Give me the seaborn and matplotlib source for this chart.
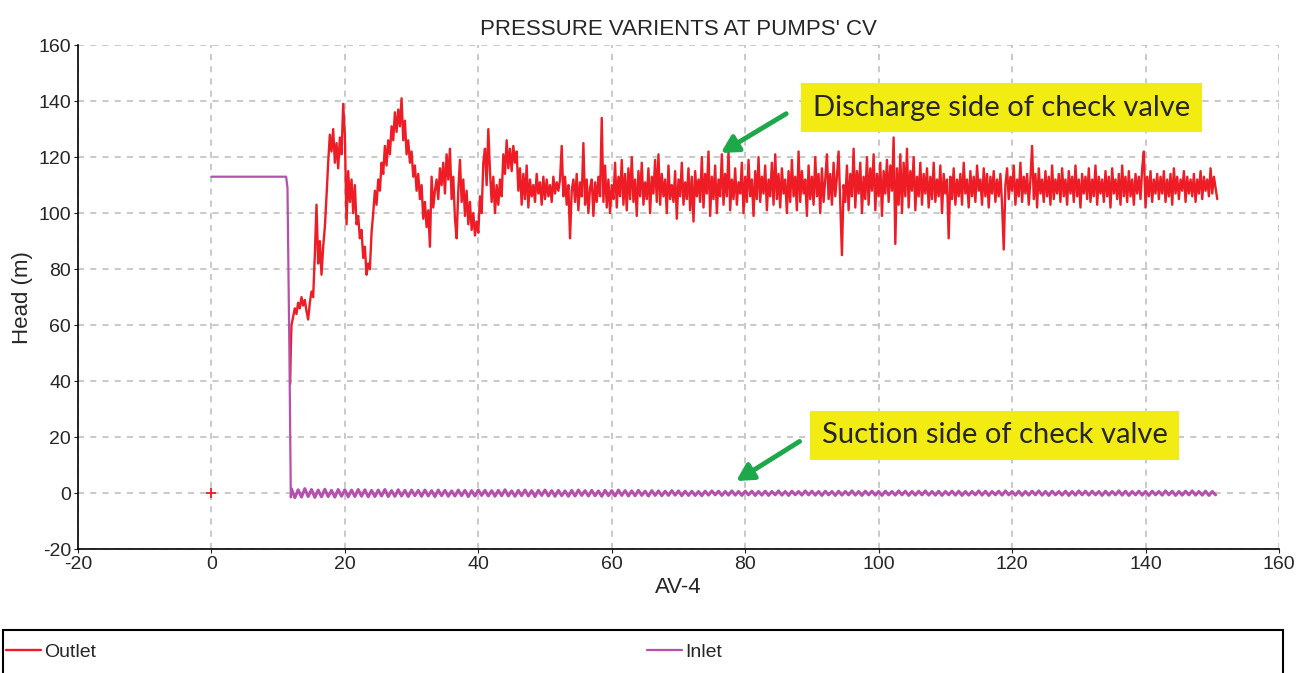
import numpy as np
import pandas as pd
import matplotlib
matplotlib.use("Agg")
import matplotlib.pyplot as plt
from matplotlib.patches import Rectangle
import seaborn as sns

# DATA

# outlet: one marker at t=0, then the transient and steady parts (0.25 s samples)
outlet_start_t = [0]
outlet_start_v = [0]

outlet_drop_t = [11.8, 11.9]
outlet_drop_v = [39, 52]

outlet_transient = [
    60, 63, 66, 64,  68, 66, 70, 67,  69, 65, 62, 68,  72, 70, 85, 103,
    82, 90, 78, 88,  95, 106, 118, 128,  122, 130, 118, 125,  116, 127, 121, 139,
    128, 96, 115, 104,  112, 100, 110, 96,  99, 91, 94, 84,  88, 78, 82, 80,
    93, 100, 108, 103,  112, 108, 118, 114,  124, 117, 126, 121,  131, 126, 136, 129,
    137, 131, 141, 126,  133, 121, 126, 118,  122, 113, 117, 108,  114, 105, 110, 98,
    104, 95, 101, 88,  113, 102, 108, 112,  105, 116, 110, 118,  107, 121, 112, 123,
    105, 113, 98, 91,  108, 119, 104, 112,  99, 108, 96, 104,  94, 100, 92, 97,
    93, 106, 100, 118,  123, 110, 130, 115,
]

outlet_steady = [
    104, 113, 100, 110, 103, 112, 106, 121, 114, 126, 116, 123, 115, 124, 118, 122, 108, 116, 103, 114,
    105, 117, 102, 112, 106, 110, 104, 114, 107, 111, 103, 113, 105, 112, 106, 110, 104, 113, 107, 111,
    108, 112, 124, 106, 113, 103, 110, 91, 108, 112, 104, 114, 101, 111, 106, 125, 103, 112, 100, 109,
    112, 99, 111, 104, 113, 106, 134, 104, 117, 102, 112, 100, 110, 105, 118, 102, 113, 106, 119, 103,
    114, 101, 116, 105, 120, 104, 112, 99, 115, 106, 118, 103, 111, 105, 116, 100, 113, 107, 119, 104,
    121, 103, 114, 106, 112, 100, 117, 105, 110, 104, 115, 98, 112, 106, 118, 103, 111, 105, 116, 101,
    113, 97, 115, 106, 112, 104, 120, 102, 114, 107, 122, 99, 113, 105, 117, 100, 112, 106, 121, 103,
    114, 106, 122, 101, 112, 105, 116, 103, 111, 107, 118, 100, 113, 104, 119, 106, 112, 99, 115, 105,
    120, 104, 113, 107, 117, 101, 112, 106, 118, 103, 121, 105, 114, 102, 116, 107, 112, 100, 115, 104,
    119, 106, 113, 101, 122, 104, 115, 107, 112, 99, 117, 105, 113, 103, 120, 106, 114, 100, 116, 104,
    112, 121, 105, 114, 103, 118, 106, 113, 122, 104, 85, 110, 104, 117, 101, 114, 106, 123, 102, 115,
    107, 118, 100, 113, 105, 120, 103, 116, 108, 121, 101, 114, 106, 118, 99, 115, 107, 119, 104, 117,
    108, 127, 89, 116, 103, 121, 100, 118, 106, 123, 102, 115, 108, 120, 101, 113, 106, 118, 103, 114,
    107, 116, 102, 113, 105, 118, 104, 112, 106, 117, 100, 114, 107, 112, 91, 113, 105, 116, 103, 112,
    106, 114, 103, 118, 107, 112, 102, 115, 106, 113, 104, 117, 108, 112, 103, 116, 106, 114, 102, 113,
    107, 115, 104, 112, 106, 114, 103, 87, 110, 116, 105, 113, 108, 117, 103, 112, 106, 118, 104, 113,
    107, 114, 103, 112, 124, 105, 114, 102, 116, 107, 112, 104, 115, 106, 113, 103, 117, 105, 112, 107,
    114, 104, 116, 106, 112, 103, 115, 107, 113, 104, 117, 106, 112, 102, 114, 107, 113, 105, 116, 104,
    112, 106, 117, 103, 113, 107, 112, 104, 115, 106, 113, 102, 116, 107, 112, 105, 114, 103, 117, 106,
    113, 104, 115, 106, 112, 103, 114, 107, 113, 105, 116, 122, 102, 113, 106, 115, 104, 112, 107, 114,
    105, 113, 107, 115, 104, 112, 106, 114, 103, 116, 107, 113, 105, 112, 108, 115, 104, 113, 107, 112,
    106, 114, 104, 112, 107, 115, 105, 113, 108, 112, 106, 116, 107, 113, 109, 105,
]

# inlet: flat head before the trip, then noise round zero (0.5 s samples)
inlet_start_t = [0, 11.2, 11.4, 11.7, 11.9, 12.0]
inlet_start_v = [113, 113, 109, 48, -1.5, 1.5]

inlet_noise = [
    1.5, -1.6, 1.2, -1.4, 1.6, -1.2, 1.3, -1.5, 1.1, -1.3, 1.4, -1.2, 1.0, -1.4, 1.3, -1.1, 1.2, -1.3, 1.1, -1.2,
    1.3, -1.1, 1.2, -1.3, 1.0, -1.2, 1.1, -1.0, 1.3, -1.2, 0.9, -1.1, 1.2, -1.0, 1.0, -1.2, 1.1, -0.9, 1.0, -1.1,
    1.1, -1.0, 0.9, -1.2, 1.1, -0.9, 1.0, -1.1, 0.8, -1.0, 1.1, -0.9, 1.0, -1.2, 0.9, -1.0, 1.1, -0.8, 1.0, -1.0,
    0.9, -1.1, 1.0, -0.9, 1.2, -1.0, 0.8, -1.1, 1.0, -0.9, 1.1, -1.0, 0.9, -1.2, 1.0, -0.8, 1.1, -1.0, 0.9, -1.1,
    1.0, -0.9, 0.8, -1.1, 1.0, -1.0, 1.1, -0.8, 0.9, -1.0, 1.0, -0.9, 0.8, -1.1, 1.0, -0.9, 0.9, -1.0, 1.1, -0.8,
    0.9, -1.0, 0.8, -0.9, 1.0, -0.8, 0.7, -1.0, 0.9, -0.8, 0.8, -0.9, 0.7, -0.8, 0.9, -0.7, 0.8, -0.9, 0.7, -0.8,
    0.7, -0.8, 0.6, -0.9, 0.7, -0.7, 0.8, -0.6, 0.7, -0.8, 0.6, -0.7, 0.8, -0.7, 0.6, -0.8, 0.7, -0.6, 0.7, -0.8,
    0.6, -0.7, 0.7, -0.8, 0.6, -0.6, 0.8, -0.7, 0.6, -0.8, 0.7, -0.6, 0.6, -0.7, 0.8, -0.6, 0.7, -0.7, 0.6, -0.8,
    0.7, -0.6, 0.6, -0.8, 0.7, -0.7, 0.6, -0.6, 0.8, -0.7, 0.6, -0.8, 0.7, -0.6, 0.7, -0.7, 0.6, -0.8, 0.7, -0.6,
    0.6, -0.7, 0.8, -0.6, 0.7, -0.8, 0.6, -0.7, 0.7, -0.6, 0.8, -0.7, 0.6, -0.7, 0.7, -0.8, 0.6, -0.6, 0.7, -0.7,
    0.7, -0.8, 0.6, -0.7, 0.6, -0.6, 0.8, -0.7, 0.7, -0.8, 0.6, -0.6, 0.7, -0.7, 0.8, -0.6, 0.6, -0.7, 0.7, -0.8,
    0.6, -0.7, 0.7, -0.6, 0.8, -0.7, 0.6, -0.8, 0.7, -0.6, 0.6, -0.7, 0.7, -0.8, 0.6, -0.7, 0.8, -0.6, 0.7, -0.7,
    0.7, -0.6, 0.6, -0.8, 0.7, -0.7, 0.6, -0.6, 0.8, -0.7, 0.7, -0.8, 0.6, -0.6, 0.7, -0.7, 0.6, -0.8, 0.7, -0.6,
    0.6, -0.7, 0.8, -0.6, 0.7, -0.8, 0.6, -0.7, 0.7, -0.6, 0.8, -0.7, 0.6, -0.7, 0.7, -0.8, 0.6, -0.6,
]

x_ticks = [-20, 0, 20, 40, 60, 80, 100, 120, 140, 160]
y_ticks = [-20, 0, 20, 40, 60, 80, 100, 120, 140, 160]

# sample times
transient_t = 12.0 + 0.25 * np.arange(len(outlet_transient))
steady_t = 42.0 + 0.25 * np.arange(len(outlet_steady))
inlet_noise_t = 12.0 + 0.5 * np.arange(len(inlet_noise))

outlet = pd.DataFrame({
    "t": np.concatenate([outlet_drop_t, transient_t, steady_t]),
    "head": np.concatenate([outlet_drop_v, outlet_transient, outlet_steady]),
})
inlet_pre = pd.DataFrame({"t": inlet_start_t, "head": inlet_start_v})
inlet_post = pd.DataFrame({"t": inlet_noise_t, "head": inlet_noise})

RED = "#EE1C25"
PURPLE = "#B650AD"
YELLOW = "#F3EC12"
GREEN = "#1DA84A"

# PLOT

sns.set_style("white")
plt.rcParams["font.family"] = ["Liberation Sans", "DejaVu Sans"]
plt.rcParams["axes.unicode_minus"] = False

fig = plt.figure(figsize=(13.06, 6.73), dpi=100)
ax = fig.add_axes([0.0597, 0.184, 0.9196, 0.749])

sns.lineplot(data=outlet, x="t", y="head", ax=ax, color=RED, linewidth=1.7,
             estimator=None, sort=False, label="Outlet")
sns.lineplot(data=inlet_pre, x="t", y="head", ax=ax, color=PURPLE, linewidth=1.6,
             estimator=None, sort=False, label="Inlet")
sns.lineplot(data=inlet_post, x="t", y="head", ax=ax, color=PURPLE, linewidth=2.2,
             estimator=None, sort=False)
sns.scatterplot(x=outlet_start_t, y=outlet_start_v, ax=ax, marker="+",
                color=RED, s=60, linewidth=1.3, zorder=5)

ax.set_xlim(-20, 160)
ax.set_ylim(-20, 160)
ax.set_xticks(x_ticks)
ax.set_yticks(y_ticks)
ax.tick_params(labelsize=14, length=3, direction="out", left=True, bottom=True,
               pad=2)
ax.grid(True, color="#BBBBBB", linestyle=(0, (4, 4)), linewidth=1.1)
for side in ["top", "right"]:
    ax.spines[side].set_visible(False)
for side in ["left", "bottom"]:
    ax.spines[side].set_color("black")
    ax.spines[side].set_linewidth(1.2)

ax.set_title("PRESSURE VARIENTS AT PUMPS' CV", fontsize=16, pad=7)
ax.set_xlabel("AV-4", fontsize=16, labelpad=3)
ax.set_ylabel("Head (m)", fontsize=16, labelpad=4)

# call-outs
callout = ["Lato", "DejaVu Sans"]
arrow = dict(arrowstyle="-|>,head_length=1.0,head_width=0.55", color=GREEN, lw=3.5)
ax.annotate("", xy=(76, 121), xytext=(86.5, 136), arrowprops=arrow)
ax.text(118.4, 137.6, "Discharge side of check valve", fontsize=21, family=callout,
        ha="center", va="center",
        bbox=dict(boxstyle="square,pad=0.4", facecolor=YELLOW, edgecolor="none"))
ax.annotate("", xy=(78.3, 3.8), xytext=(88.5, 19), arrowprops=arrow)
ax.text(117.4, 20.6, "Suction side of check valve", fontsize=21, family=callout,
        ha="center", va="center",
        bbox=dict(boxstyle="square,pad=0.4", facecolor=YELLOW, edgecolor="none"))

# legend strip at the bottom
handles, labels = ax.get_legend_handles_labels()
ax.get_legend().remove()
fig.legend(handles[:2], labels[:2], ncol=2, mode="expand", loc="center left",
           bbox_to_anchor=(0.0046, 0.006, 0.548, 0.05),
           bbox_transform=fig.transFigure, fontsize=14, frameon=False,
           handlelength=1.8, handletextpad=0.15, borderaxespad=0, borderpad=0)
fig.patches.append(Rectangle((0.0023, -0.01), 0.9801, 0.074, transform=fig.transFigure,
                             fill=False, edgecolor="black", linewidth=1.5))

fig.savefig("out.png", dpi=100)
